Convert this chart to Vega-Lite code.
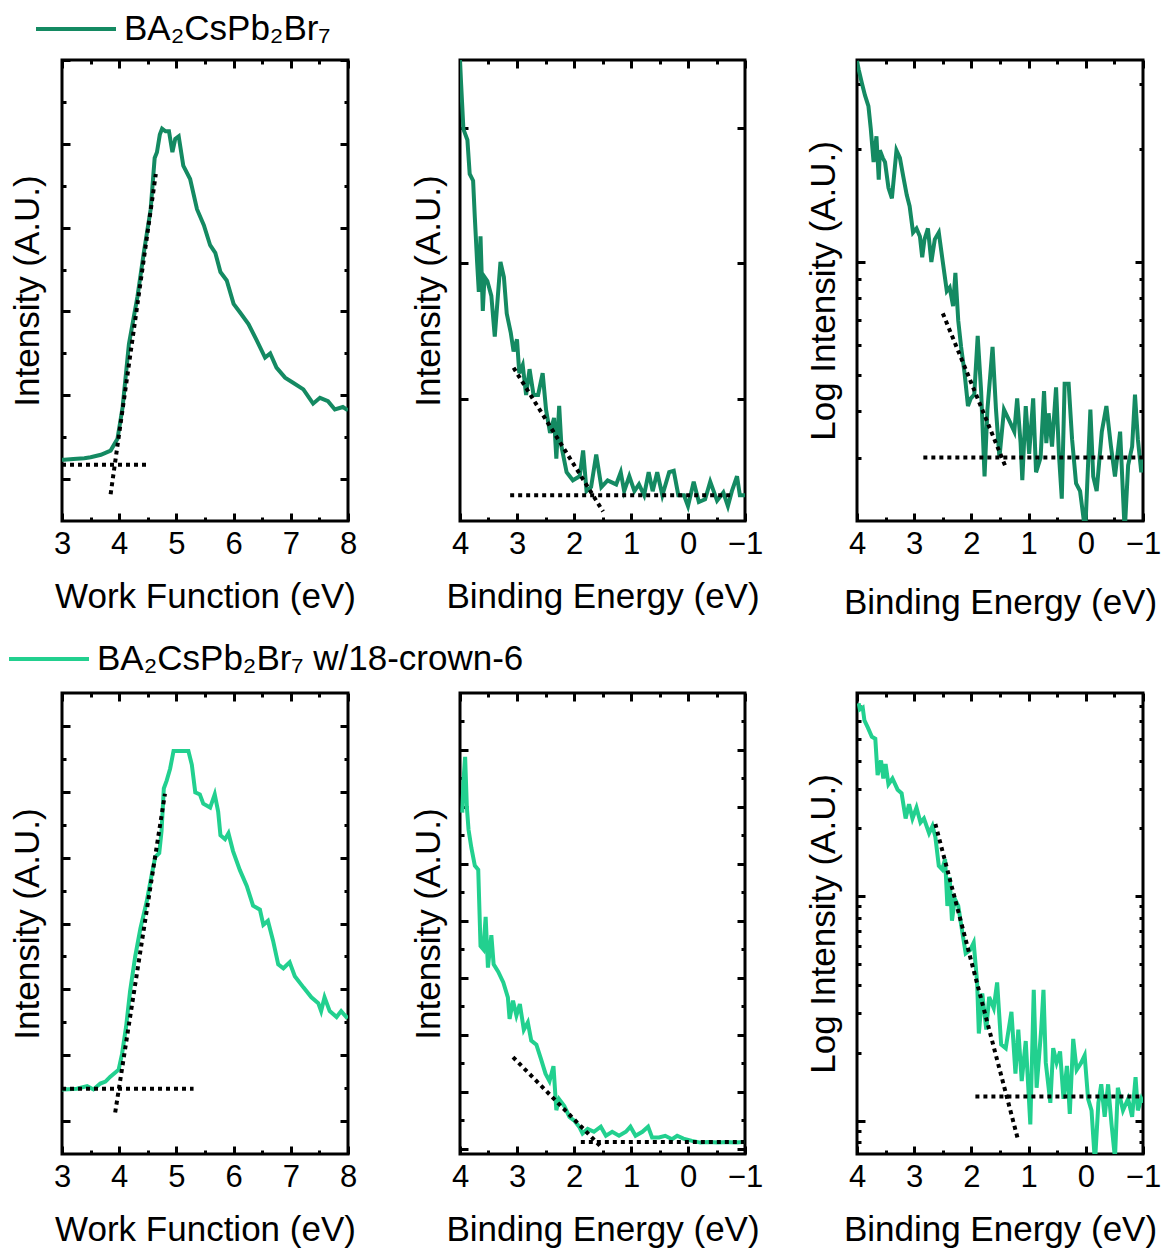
{
"$schema": "https://vega.github.io/schema/vega-lite/v6.json",
"background": "white",
"padding": {"left": 5, "top": -15, "right": 5, "bottom": 5},
"config": {
  "font": "Liberation Sans",
  "view": {"stroke": "black", "strokeWidth": 3},
  "axis": {"grid": false, "domain": false, "ticks": true, "tickColor": "black", "tickWidth": 3, "labelFont": "Liberation Sans", "labelFontSize": 31, "labelColor": "black", "titleFont": "Liberation Sans", "titleFontSize": 35, "titleFontWeight": "normal", "titleColor": "black"},
  "legend": {"labelFont": "Liberation Sans", "labelFontSize": 35, "labelColor": "black", "labelLimit": 0, "symbolType": "stroke", "symbolStrokeWidth": 4, "symbolSize": 6400, "labelOffset": 6}
},
"datasets": {
  "t1": [{"x":3.0,"y":0.23},{"x":3.04,"y":0.23},{"x":3.2,"y":0.24},{"x":3.39,"y":0.25},{"x":3.5,"y":0.26},{"x":3.68,"y":0.29},{"x":3.85,"y":0.34},{"x":3.97,"y":0.48},{"x":4.06,"y":0.86},{"x":4.17,"y":1.61},{"x":4.32,"y":2.18},{"x":4.43,"y":2.70},{"x":4.55,"y":3.22},{"x":4.62,"y":3.83},{"x":4.66,"y":3.90},{"x":4.71,"y":4.11},{"x":4.75,"y":4.18},{"x":4.81,"y":4.15},{"x":4.87,"y":4.15},{"x":4.93,"y":3.90},{"x":4.98,"y":4.06},{"x":5.04,"y":4.09},{"x":5.12,"y":3.74},{"x":5.24,"y":3.58},{"x":5.36,"y":3.22},{"x":5.48,"y":3.03},{"x":5.59,"y":2.79},{"x":5.68,"y":2.70},{"x":5.77,"y":2.47},{"x":5.88,"y":2.37},{"x":6.00,"y":2.09},{"x":6.11,"y":1.99},{"x":6.26,"y":1.85},{"x":6.40,"y":1.66},{"x":6.55,"y":1.45},{"x":6.64,"y":1.50},{"x":6.75,"y":1.33},{"x":6.90,"y":1.21},{"x":7.04,"y":1.15},{"x":7.22,"y":1.07},{"x":7.39,"y":0.90},{"x":7.51,"y":0.97},{"x":7.65,"y":0.93},{"x":7.77,"y":0.83},{"x":7.91,"y":0.86},{"x":8.0,"y":0.82}],
  "t1h": [{"x":3.0,"y":0.17},{"x":4.49,"y":0.17}],
  "t1s": [{"x":3.85,"y":-0.18},{"x":4.64,"y":3.64}],
  "t2": [{"x":4.0,"y":3.5},{"x":3.98,"y":3.32},{"x":3.94,"y":2.99},{"x":3.87,"y":2.91},{"x":3.83,"y":2.66},{"x":3.77,"y":2.61},{"x":3.74,"y":2.34},{"x":3.70,"y":2.01},{"x":3.67,"y":1.79},{"x":3.64,"y":2.20},{"x":3.60,"y":1.65},{"x":3.57,"y":1.90},{"x":3.52,"y":1.87},{"x":3.45,"y":1.76},{"x":3.39,"y":1.46},{"x":3.29,"y":2.01},{"x":3.23,"y":1.90},{"x":3.18,"y":1.63},{"x":3.11,"y":1.49},{"x":3.06,"y":1.35},{"x":3.00,"y":1.44},{"x":2.96,"y":1.19},{"x":2.90,"y":1.25},{"x":2.84,"y":1.03},{"x":2.78,"y":1.22},{"x":2.71,"y":1.03},{"x":2.63,"y":1.03},{"x":2.55,"y":1.19},{"x":2.49,"y":0.92},{"x":2.42,"y":0.75},{"x":2.35,"y":0.86},{"x":2.31,"y":0.56},{"x":2.26,"y":0.95},{"x":2.22,"y":0.65},{"x":2.13,"y":0.46},{"x":2.02,"y":0.40},{"x":1.90,"y":0.43},{"x":1.84,"y":0.62},{"x":1.78,"y":0.32},{"x":1.70,"y":0.35},{"x":1.61,"y":0.59},{"x":1.52,"y":0.35},{"x":1.41,"y":0.40},{"x":1.26,"y":0.37},{"x":1.18,"y":0.46},{"x":1.12,"y":0.32},{"x":1.03,"y":0.43},{"x":0.94,"y":0.32},{"x":0.86,"y":0.37},{"x":0.77,"y":0.29},{"x":0.69,"y":0.46},{"x":0.62,"y":0.32},{"x":0.54,"y":0.46},{"x":0.45,"y":0.29},{"x":0.33,"y":0.46},{"x":0.25,"y":0.47},{"x":0.17,"y":0.29},{"x":0.07,"y":0.29},{"x":0.00,"y":0.21},{"x":-0.10,"y":0.39},{"x":-0.19,"y":0.24},{"x":-0.30,"y":0.26},{"x":-0.39,"y":0.39},{"x":-0.51,"y":0.25},{"x":-0.62,"y":0.31},{"x":-0.70,"y":0.21},{"x":-0.77,"y":0.32},{"x":-0.86,"y":0.43},{"x":-0.91,"y":0.29},{"x":-1.0,"y":0.29}],
  "t2h": [{"x":3.12,"y":0.29},{"x":-0.8,"y":0.29}],
  "t2s": [{"x":3.06,"y":1.23},{"x":1.49,"y":0.17}],
  "t3": [{"x":4.0,"y":3.45},{"x":3.97,"y":3.27},{"x":3.91,"y":2.99},{"x":3.86,"y":2.79},{"x":3.80,"y":2.61},{"x":3.76,"y":2.28},{"x":3.71,"y":1.85},{"x":3.66,"y":2.17},{"x":3.62,"y":1.66},{"x":3.60,"y":1.99},{"x":3.55,"y":1.90},{"x":3.51,"y":1.85},{"x":3.45,"y":1.58},{"x":3.39,"y":1.48},{"x":3.31,"y":1.99},{"x":3.25,"y":1.90},{"x":3.19,"y":1.69},{"x":3.13,"y":1.51},{"x":3.08,"y":1.41},{"x":3.02,"y":1.20},{"x":2.96,"y":1.23},{"x":2.90,"y":1.17},{"x":2.86,"y":1.03},{"x":2.82,"y":1.15},{"x":2.76,"y":1.23},{"x":2.70,"y":1.00},{"x":2.64,"y":1.15},{"x":2.57,"y":1.20},{"x":2.50,"y":1.00},{"x":2.43,"y":0.836},{"x":2.38,"y":0.855},{"x":2.32,"y":0.762},{"x":2.28,"y":0.935},{"x":2.23,"y":0.697},{"x":2.18,"y":0.593},{"x":2.12,"y":0.506},{"x":2.06,"y":0.412},{"x":2.01,"y":0.432},{"x":1.95,"y":0.442},{"x":1.89,"y":0.635},{"x":1.83,"y":0.452},{"x":1.77,"y":0.267},{"x":1.72,"y":0.403},{"x":1.63,"y":0.593},{"x":1.57,"y":0.403},{"x":1.51,"y":0.300},{"x":1.43,"y":0.403},{"x":1.34,"y":0.377},{"x":1.25,"y":0.352},{"x":1.20,"y":0.432},{"x":1.14,"y":0.328},{"x":1.11,"y":0.261},{"x":1.05,"y":0.412},{"x":0.99,"y":0.307},{"x":0.92,"y":0.432},{"x":0.87,"y":0.274},{"x":0.79,"y":0.300},{"x":0.73,"y":0.452},{"x":0.69,"y":0.328},{"x":0.65,"y":0.394},{"x":0.59,"y":0.321},{"x":0.52,"y":0.462},{"x":0.47,"y":0.307},{"x":0.42,"y":0.233},{"x":0.37,"y":0.473},{"x":0.30,"y":0.473},{"x":0.24,"y":0.336},{"x":0.17,"y":0.256},{"x":0.10,"y":0.244},{"x":0.01,"y":0.19},{"x":-0.08,"y":0.403},{"x":-0.13,"y":0.267},{"x":-0.19,"y":0.244},{"x":-0.28,"y":0.352},{"x":-0.36,"y":0.412},{"x":-0.44,"y":0.321},{"x":-0.51,"y":0.267},{"x":-0.60,"y":0.352},{"x":-0.68,"y":0.19},{"x":-0.74,"y":0.286},{"x":-0.81,"y":0.321},{"x":-0.86,"y":0.442},{"x":-0.91,"y":0.336},{"x":-0.97,"y":0.274},{"x":-1.0,"y":0.30}],
  "t3h": [{"x":2.84,"y":0.30},{"x":-1.0,"y":0.30}],
  "t3s": [{"x":2.50,"y":0.729},{"x":1.40,"y":0.283}],
  "b1": [{"x":3.0,"y":0.48},{"x":3.03,"y":0.48},{"x":3.26,"y":0.49},{"x":3.44,"y":0.53},{"x":3.55,"y":0.48},{"x":3.67,"y":0.57},{"x":3.76,"y":0.60},{"x":3.84,"y":0.67},{"x":3.99,"y":0.78},{"x":4.05,"y":1.02},{"x":4.12,"y":1.43},{"x":4.19,"y":1.97},{"x":4.28,"y":2.50},{"x":4.37,"y":2.92},{"x":4.48,"y":3.33},{"x":4.57,"y":3.75},{"x":4.63,"y":4.01},{"x":4.70,"y":4.07},{"x":4.74,"y":4.40},{"x":4.78,"y":5.05},{"x":4.83,"y":5.17},{"x":4.89,"y":5.35},{"x":4.95,"y":5.62},{"x":5.03,"y":5.62},{"x":5.15,"y":5.62},{"x":5.21,"y":5.62},{"x":5.27,"y":5.41},{"x":5.33,"y":4.99},{"x":5.41,"y":4.96},{"x":5.47,"y":4.82},{"x":5.59,"y":4.76},{"x":5.67,"y":4.96},{"x":5.73,"y":4.70},{"x":5.77,"y":4.34},{"x":5.85,"y":4.28},{"x":5.91,"y":4.37},{"x":5.99,"y":4.10},{"x":6.11,"y":3.81},{"x":6.23,"y":3.57},{"x":6.34,"y":3.27},{"x":6.46,"y":3.21},{"x":6.52,"y":2.98},{"x":6.60,"y":3.04},{"x":6.69,"y":2.74},{"x":6.78,"y":2.38},{"x":6.87,"y":2.32},{"x":6.98,"y":2.41},{"x":7.07,"y":2.20},{"x":7.22,"y":2.03},{"x":7.36,"y":1.88},{"x":7.48,"y":1.79},{"x":7.53,"y":1.67},{"x":7.59,"y":1.88},{"x":7.68,"y":1.67},{"x":7.80,"y":1.58},{"x":7.88,"y":1.67},{"x":7.97,"y":1.58},{"x":8.0,"y":1.6}],
  "b1h": [{"x":3.0,"y":0.49},{"x":5.30,"y":0.49}],
  "b1s": [{"x":3.93,"y":0.13},{"x":4.80,"y":4.97}],
  "b2": [{"x":3.96,"y":5.9},{"x":3.94,"y":6.44},{"x":3.91,"y":6.88},{"x":3.88,"y":6.00},{"x":3.85,"y":5.60},{"x":3.80,"y":5.28},{"x":3.74,"y":4.97},{"x":3.68,"y":4.90},{"x":3.64,"y":3.56},{"x":3.59,"y":3.50},{"x":3.55,"y":4.07},{"x":3.51,"y":3.18},{"x":3.45,"y":3.75},{"x":3.41,"y":3.24},{"x":3.33,"y":3.11},{"x":3.24,"y":2.92},{"x":3.16,"y":2.66},{"x":3.13,"y":2.28},{"x":3.07,"y":2.60},{"x":3.01,"y":2.34},{"x":2.95,"y":2.54},{"x":2.88,"y":2.09},{"x":2.81,"y":2.22},{"x":2.75,"y":1.90},{"x":2.66,"y":1.83},{"x":2.58,"y":1.58},{"x":2.50,"y":1.32},{"x":2.43,"y":1.19},{"x":2.36,"y":1.45},{"x":2.31,"y":0.68},{"x":2.26,"y":0.87},{"x":2.17,"y":0.75},{"x":2.08,"y":0.56},{"x":1.99,"y":0.49},{"x":1.91,"y":0.39},{"x":1.85,"y":0.27},{"x":1.76,"y":0.35},{"x":1.65,"y":0.30},{"x":1.53,"y":0.39},{"x":1.44,"y":0.23},{"x":1.33,"y":0.30},{"x":1.21,"y":0.23},{"x":1.09,"y":0.30},{"x":1.01,"y":0.39},{"x":0.92,"y":0.23},{"x":0.80,"y":0.30},{"x":0.70,"y":0.39},{"x":0.63,"y":0.20},{"x":0.51,"y":0.20},{"x":0.40,"y":0.23},{"x":0.28,"y":0.17},{"x":0.19,"y":0.23},{"x":0.08,"y":0.18},{"x":-0.07,"y":0.14},{"x":-0.22,"y":0.11},{"x":-0.36,"y":0.12},{"x":-0.53,"y":0.11},{"x":-0.68,"y":0.12},{"x":-0.83,"y":0.11},{"x":-0.97,"y":0.12},{"x":-1.0,"y":0.12}],
  "b2h": [{"x":1.88,"y":0.12},{"x":-1.0,"y":0.12}],
  "b2s": [{"x":3.07,"y":1.61},{"x":1.53,"y":0.04}],
  "b3": [{"x":3.97,"y":7.2},{"x":3.95,"y":6.76},{"x":3.90,"y":6.89},{"x":3.87,"y":6.04},{"x":3.81,"y":5.61},{"x":3.74,"y":5.11},{"x":3.68,"y":5.01},{"x":3.64,"y":3.45},{"x":3.58,"y":4.01},{"x":3.54,"y":3.33},{"x":3.50,"y":3.86},{"x":3.45,"y":3.14},{"x":3.38,"y":3.33},{"x":3.29,"y":2.97},{"x":3.22,"y":2.86},{"x":3.15,"y":2.21},{"x":3.09,"y":2.56},{"x":3.03,"y":2.21},{"x":2.96,"y":2.47},{"x":2.89,"y":2.12},{"x":2.83,"y":2.21},{"x":2.74,"y":1.90},{"x":2.68,"y":2.05},{"x":2.63,"y":1.83},{"x":2.57,"y":1.36},{"x":2.51,"y":1.31},{"x":2.46,"y":1.46},{"x":2.42,"y":0.902},{"x":2.38,"y":1.21},{"x":2.34,"y":0.776},{"x":2.29,"y":0.970},{"x":2.23,"y":0.902},{"x":2.16,"y":0.693},{"x":2.10,"y":0.555},{"x":2.02,"y":0.575},{"x":1.96,"y":0.619},{"x":1.90,"y":0.412},{"x":1.87,"y":0.244},{"x":1.81,"y":0.368},{"x":1.74,"y":0.254},{"x":1.69,"y":0.355},{"x":1.61,"y":0.317},{"x":1.55,"y":0.412},{"x":1.48,"y":0.218},{"x":1.40,"y":0.210},{"x":1.30,"y":0.305},{"x":1.23,"y":0.162},{"x":1.18,"y":0.254},{"x":1.12,"y":0.150},{"x":1.05,"y":0.226},{"x":0.97,"y":0.0962},{"x":0.91,"y":0.382},{"x":0.86,"y":0.140},{"x":0.78,"y":0.254},{"x":0.74,"y":0.382},{"x":0.70,"y":0.181},{"x":0.62,"y":0.120},{"x":0.57,"y":0.210},{"x":0.51,"y":0.181},{"x":0.45,"y":0.203},{"x":0.39,"y":0.125},{"x":0.33,"y":0.175},{"x":0.28,"y":0.107},{"x":0.22,"y":0.231},{"x":0.16,"y":0.168},{"x":0.08,"y":0.181},{"x":0.02,"y":0.195},{"x":-0.04,"y":0.125},{"x":-0.10,"y":0.111},{"x":-0.16,"y":0.065},{"x":-0.22,"y":0.120},{"x":-0.27,"y":0.145},{"x":-0.33,"y":0.104},{"x":-0.39,"y":0.145},{"x":-0.45,"y":0.0962},{"x":-0.51,"y":0.068},{"x":-0.56,"y":0.140},{"x":-0.65,"y":0.111},{"x":-0.74,"y":0.125},{"x":-0.81,"y":0.104},{"x":-0.87,"y":0.156},{"x":-0.91,"y":0.111},{"x":-0.97,"y":0.125},{"x":-1.0,"y":0.12}],
  "b3h": [{"x":1.93,"y":0.128},{"x":-1.0,"y":0.128}],
  "b3s": [{"x":2.63,"y":2.09},{"x":1.18,"y":0.0813}]
},
"columns": 3,
"spacing": {"row": 172, "column": 112},
"bounds": "flush",
"resolve": {"scale": {"color": "independent"}, "legend": {"color": "independent"}},
"concat": [
  {"width": 286, "height": 461,
   "resolve": {"axis": {"x": "independent", "y": "independent"}},
   "layer": [
    {"data": {"name": "t1"}, "mark": {"type": "line", "strokeWidth": 4, "clip": true},
     "encoding": {
      "x": {"field": "x", "type": "quantitative", "scale": {"domain": [3, 8], "nice": false, "zero": false}, "axis": {"orient": "bottom", "values": [3,4,5,6,7,8], "tickSize": -8, "title": "Work Function (eV)", "labelPadding": 16, "titlePadding": 20, "labelFlush": false, "labelOverlap": false}},
      "y": {"field": "y", "type": "quantitative", "scale": {"domain": [-0.5, 5], "nice": false, "zero": false}, "axis": {"orient": "left", "values": [0,1,2,3,4,5], "tickSize": -8, "labels": false, "title": "Intensity (A.U.)", "titlePadding": 17, "minExtent": 0, "maxExtent": 0}},
      "color": {"datum": "BA\u2082CsPb\u2082Br\u2087", "type": "nominal", "scale": {"range": ["#148a62"]}, "legend": {"title": null, "orient": "none", "legendX": -28, "legendY": -73}}
     }},
    {"data": {"name": "t1h"}, "mark": {"type": "line", "color": "black", "strokeWidth": 4, "strokeDash": [4, 4]},
     "encoding": {
      "x": {"field": "x", "type": "quantitative", "scale": {"domain": [3, 8], "nice": false, "zero": false}, "axis": {"orient": "bottom", "values": [3.5,4.5,5.5,6.5,7.5], "tickSize": -4, "labels": false, "title": null, "minExtent": 0, "maxExtent": 0}},
      "y": {"field": "y", "type": "quantitative", "scale": {"domain": [-0.5, 5], "nice": false, "zero": false}, "axis": {"orient": "left", "values": [0.5,1.5,2.5,3.5,4.5], "tickSize": -4, "labels": false, "title": null, "minExtent": 0, "maxExtent": 0}}
     }},
    {"data": {"name": "t1s"}, "mark": {"type": "line", "color": "black", "strokeWidth": 4, "strokeDash": [4, 4]},
     "encoding": {
      "x": {"field": "x", "type": "quantitative", "scale": {"domain": [3, 8], "nice": false, "zero": false}, "axis": {"orient": "top", "values": [3,4,5,6,7,8], "tickSize": -8, "labels": false, "title": null, "minExtent": 0, "maxExtent": 0}},
      "y": {"field": "y", "type": "quantitative", "scale": {"domain": [-0.5, 5], "nice": false, "zero": false}, "axis": {"orient": "right", "values": [0,1,2,3,4,5], "tickSize": -8, "labels": false, "title": null, "minExtent": 0, "maxExtent": 0}}
     }},
    {"data": {"name": "t1"}, "mark": {"type": "line", "opacity": 0},
     "encoding": {
      "x": {"field": "x", "type": "quantitative", "scale": {"domain": [3, 8], "nice": false, "zero": false}, "axis": {"orient": "top", "values": [3.5,4.5,5.5,6.5,7.5], "tickSize": -4, "labels": false, "title": null, "minExtent": 0, "maxExtent": 0}},
      "y": {"field": "y", "type": "quantitative", "scale": {"domain": [-0.5, 5], "nice": false, "zero": false}, "axis": {"orient": "right", "values": [0.5,1.5,2.5,3.5,4.5], "tickSize": -4, "labels": false, "title": null, "minExtent": 0, "maxExtent": 0}}
     }}
   ]},
  {"width": 285, "height": 461,
   "resolve": {"axis": {"x": "independent", "y": "independent"}},
   "layer": [
    {"data": {"name": "t2"}, "mark": {"type": "line", "strokeWidth": 4, "clip": true, "color": "#148a62"},
     "encoding": {
      "x": {"field": "x", "type": "quantitative", "scale": {"domain": [4, -1], "nice": false, "zero": false}, "axis": {"orient": "bottom", "values": [4,3,2,1,0,-1], "tickSize": -8, "title": "Binding Energy (eV)", "labelPadding": 16, "titlePadding": 20, "labelFlush": false, "labelOverlap": false}},
      "y": {"field": "y", "type": "quantitative", "scale": {"domain": [0.1, 3.5], "nice": false, "zero": false}, "axis": {"orient": "left", "values": [1,2,3], "tickSize": -8, "labels": false, "title": "Intensity (A.U.)", "titlePadding": 14, "minExtent": 0, "maxExtent": 0}}
     }},
    {"data": {"name": "t2h"}, "mark": {"type": "line", "color": "black", "strokeWidth": 4, "strokeDash": [4, 4]},
     "encoding": {
      "x": {"field": "x", "type": "quantitative", "scale": {"domain": [4, -1], "nice": false, "zero": false}, "axis": {"orient": "bottom", "values": [3.5,2.5,1.5,0.5,-0.5], "tickSize": -4, "labels": false, "title": null, "minExtent": 0, "maxExtent": 0}},
      "y": {"field": "y", "type": "quantitative", "scale": {"domain": [0.1, 3.5], "nice": false, "zero": false}, "axis": null}
     }},
    {"data": {"name": "t2s"}, "mark": {"type": "line", "color": "black", "strokeWidth": 4, "strokeDash": [4, 4]},
     "encoding": {
      "x": {"field": "x", "type": "quantitative", "scale": {"domain": [4, -1], "nice": false, "zero": false}, "axis": {"orient": "top", "values": [4,3,2,1,0,-1], "tickSize": -8, "labels": false, "title": null, "minExtent": 0, "maxExtent": 0}},
      "y": {"field": "y", "type": "quantitative", "scale": {"domain": [0.1, 3.5], "nice": false, "zero": false}, "axis": {"orient": "right", "values": [1,2,3], "tickSize": -8, "labels": false, "title": null, "minExtent": 0, "maxExtent": 0}}
     }},
    {"data": {"name": "t2"}, "mark": {"type": "line", "opacity": 0},
     "encoding": {
      "x": {"field": "x", "type": "quantitative", "scale": {"domain": [4, -1], "nice": false, "zero": false}, "axis": {"orient": "top", "values": [3.5,2.5,1.5,0.5,-0.5], "tickSize": -4, "labels": false, "title": null, "minExtent": 0, "maxExtent": 0}},
      "y": {"field": "y", "type": "quantitative", "scale": {"domain": [0.1, 3.5], "nice": false, "zero": false}, "axis": null}
     }}
   ]},
  {"width": 286, "height": 461,
   "resolve": {"axis": {"x": "independent", "y": "independent"}},
   "layer": [
    {"data": {"name": "t3"}, "mark": {"type": "line", "strokeWidth": 4, "clip": true, "color": "#148a62"},
     "encoding": {
      "x": {"field": "x", "type": "quantitative", "scale": {"domain": [4, -1], "nice": false, "zero": false}, "axis": {"orient": "bottom", "values": [4,3,2,1,0,-1], "tickSize": -8, "title": "Binding Energy (eV)", "labelPadding": 16, "titlePadding": 26, "labelFlush": false, "labelOverlap": false}},
      "y": {"field": "y", "type": "quantitative", "scale": {"type": "log", "domain": [0.203, 3.47], "nice": false}, "axis": {"orient": "left", "values": [1], "tickSize": -8, "labels": false, "title": "Log Intensity (A.U.)", "titlePadding": 16, "minExtent": 0, "maxExtent": 0}}
     }},
    {"data": {"name": "t3h"}, "mark": {"type": "line", "color": "black", "strokeWidth": 4, "strokeDash": [4, 4]},
     "encoding": {
      "x": {"field": "x", "type": "quantitative", "scale": {"domain": [4, -1], "nice": false, "zero": false}, "axis": {"orient": "bottom", "values": [3.5,2.5,1.5,0.5,-0.5], "tickSize": -4, "labels": false, "title": null, "minExtent": 0, "maxExtent": 0}},
      "y": {"field": "y", "type": "quantitative", "scale": {"type": "log", "domain": [0.203, 3.47], "nice": false}, "axis": {"orient": "left", "values": [0.3,0.4,0.5,0.6,0.7,0.8,0.9,2,3], "tickSize": -4, "labels": false, "title": null, "minExtent": 0, "maxExtent": 0}}
     }},
    {"data": {"name": "t3s"}, "mark": {"type": "line", "color": "black", "strokeWidth": 4, "strokeDash": [4, 4]},
     "encoding": {
      "x": {"field": "x", "type": "quantitative", "scale": {"domain": [4, -1], "nice": false, "zero": false}, "axis": {"orient": "top", "values": [4,3,2,1,0,-1], "tickSize": -8, "labels": false, "title": null, "minExtent": 0, "maxExtent": 0}},
      "y": {"field": "y", "type": "quantitative", "scale": {"type": "log", "domain": [0.203, 3.47], "nice": false}, "axis": {"orient": "right", "values": [1], "tickSize": -8, "labels": false, "title": null, "minExtent": 0, "maxExtent": 0}}
     }},
    {"data": {"name": "t3"}, "mark": {"type": "line", "opacity": 0},
     "encoding": {
      "x": {"field": "x", "type": "quantitative", "scale": {"domain": [4, -1], "nice": false, "zero": false}, "axis": {"orient": "top", "values": [3.5,2.5,1.5,0.5,-0.5], "tickSize": -4, "labels": false, "title": null, "minExtent": 0, "maxExtent": 0}},
      "y": {"field": "y", "type": "quantitative", "scale": {"type": "log", "domain": [0.203, 3.47], "nice": false}, "axis": {"orient": "right", "values": [0.3,0.4,0.5,0.6,0.7,0.8,0.9,2,3], "tickSize": -4, "labels": false, "title": null, "minExtent": 0, "maxExtent": 0}}
     }}
   ]},
  {"width": 286, "height": 461,
   "resolve": {"axis": {"x": "independent", "y": "independent"}},
   "layer": [
    {"data": {"name": "b1"}, "mark": {"type": "line", "strokeWidth": 4, "clip": true},
     "encoding": {
      "x": {"field": "x", "type": "quantitative", "scale": {"domain": [3, 8], "nice": false, "zero": false}, "axis": {"orient": "bottom", "values": [3,4,5,6,7,8], "tickSize": -8, "title": "Work Function (eV)", "labelPadding": 16, "titlePadding": 20, "labelFlush": false, "labelOverlap": false}},
      "y": {"field": "y", "type": "quantitative", "scale": {"domain": [-0.5, 6.5], "nice": false, "zero": false}, "axis": {"orient": "left", "values": [0,1,2,3,4,5,6], "tickSize": -8, "labels": false, "title": "Intensity (A.U.)", "titlePadding": 17, "minExtent": 0, "maxExtent": 0}},
      "color": {"datum": "BA\u2082CsPb\u2082Br\u2087 w/18-crown-6", "type": "nominal", "scale": {"range": ["#22d08f"]}, "legend": {"title": null, "orient": "none", "legendX": -55, "legendY": -76}}
     }},
    {"data": {"name": "b1h"}, "mark": {"type": "line", "color": "black", "strokeWidth": 4, "strokeDash": [4, 4]},
     "encoding": {
      "x": {"field": "x", "type": "quantitative", "scale": {"domain": [3, 8], "nice": false, "zero": false}, "axis": {"orient": "bottom", "values": [3.5,4.5,5.5,6.5,7.5], "tickSize": -4, "labels": false, "title": null, "minExtent": 0, "maxExtent": 0}},
      "y": {"field": "y", "type": "quantitative", "scale": {"domain": [-0.5, 6.5], "nice": false, "zero": false}, "axis": {"orient": "left", "values": [0.5,1.5,2.5,3.5,4.5,5.5], "tickSize": -4, "labels": false, "title": null, "minExtent": 0, "maxExtent": 0}}
     }},
    {"data": {"name": "b1s"}, "mark": {"type": "line", "color": "black", "strokeWidth": 4, "strokeDash": [4, 4]},
     "encoding": {
      "x": {"field": "x", "type": "quantitative", "scale": {"domain": [3, 8], "nice": false, "zero": false}, "axis": {"orient": "top", "values": [3,4,5,6,7,8], "tickSize": -8, "labels": false, "title": null, "minExtent": 0, "maxExtent": 0}},
      "y": {"field": "y", "type": "quantitative", "scale": {"domain": [-0.5, 6.5], "nice": false, "zero": false}, "axis": {"orient": "right", "values": [0,1,2,3,4,5,6], "tickSize": -8, "labels": false, "title": null, "minExtent": 0, "maxExtent": 0}}
     }},
    {"data": {"name": "b1"}, "mark": {"type": "line", "opacity": 0},
     "encoding": {
      "x": {"field": "x", "type": "quantitative", "scale": {"domain": [3, 8], "nice": false, "zero": false}, "axis": {"orient": "top", "values": [3.5,4.5,5.5,6.5,7.5], "tickSize": -4, "labels": false, "title": null, "minExtent": 0, "maxExtent": 0}},
      "y": {"field": "y", "type": "quantitative", "scale": {"domain": [-0.5, 6.5], "nice": false, "zero": false}, "axis": {"orient": "right", "values": [0.5,1.5,2.5,3.5,4.5,5.5], "tickSize": -4, "labels": false, "title": null, "minExtent": 0, "maxExtent": 0}}
     }}
   ]},
  {"width": 285, "height": 461,
   "resolve": {"axis": {"x": "independent", "y": "independent"}},
   "layer": [
    {"data": {"name": "b2"}, "mark": {"type": "line", "strokeWidth": 4, "clip": true, "color": "#22d08f"},
     "encoding": {
      "x": {"field": "x", "type": "quantitative", "scale": {"domain": [4, -1], "nice": false, "zero": false}, "axis": {"orient": "bottom", "values": [4,3,2,1,0,-1], "tickSize": -8, "title": "Binding Energy (eV)", "labelPadding": 16, "titlePadding": 20, "labelFlush": false, "labelOverlap": false}},
      "y": {"field": "y", "type": "quantitative", "scale": {"domain": [-0.09, 8.0], "nice": false, "zero": false}, "axis": {"orient": "left", "values": [0,1,2,3,4,5,6,7], "tickSize": -8, "labels": false, "title": "Intensity (A.U.)", "titlePadding": 14, "minExtent": 0, "maxExtent": 0}}
     }},
    {"data": {"name": "b2h"}, "mark": {"type": "line", "color": "black", "strokeWidth": 4, "strokeDash": [4, 4]},
     "encoding": {
      "x": {"field": "x", "type": "quantitative", "scale": {"domain": [4, -1], "nice": false, "zero": false}, "axis": {"orient": "bottom", "values": [3.5,2.5,1.5,0.5,-0.5], "tickSize": -4, "labels": false, "title": null, "minExtent": 0, "maxExtent": 0}},
      "y": {"field": "y", "type": "quantitative", "scale": {"domain": [-0.09, 8.0], "nice": false, "zero": false}, "axis": {"orient": "left", "values": [0.5,1.5,2.5,3.5,4.5,5.5,6.5,7.5], "tickSize": -4, "labels": false, "title": null, "minExtent": 0, "maxExtent": 0}}
     }},
    {"data": {"name": "b2s"}, "mark": {"type": "line", "color": "black", "strokeWidth": 4, "strokeDash": [4, 4]},
     "encoding": {
      "x": {"field": "x", "type": "quantitative", "scale": {"domain": [4, -1], "nice": false, "zero": false}, "axis": {"orient": "top", "values": [4,3,2,1,0,-1], "tickSize": -8, "labels": false, "title": null, "minExtent": 0, "maxExtent": 0}},
      "y": {"field": "y", "type": "quantitative", "scale": {"domain": [-0.09, 8.0], "nice": false, "zero": false}, "axis": {"orient": "right", "values": [0,1,2,3,4,5,6,7], "tickSize": -8, "labels": false, "title": null, "minExtent": 0, "maxExtent": 0}}
     }},
    {"data": {"name": "b2"}, "mark": {"type": "line", "opacity": 0},
     "encoding": {
      "x": {"field": "x", "type": "quantitative", "scale": {"domain": [4, -1], "nice": false, "zero": false}, "axis": {"orient": "top", "values": [3.5,2.5,1.5,0.5,-0.5], "tickSize": -4, "labels": false, "title": null, "minExtent": 0, "maxExtent": 0}},
      "y": {"field": "y", "type": "quantitative", "scale": {"domain": [-0.09, 8.0], "nice": false, "zero": false}, "axis": {"orient": "right", "values": [0.5,1.5,2.5,3.5,4.5,5.5,6.5,7.5], "tickSize": -4, "labels": false, "title": null, "minExtent": 0, "maxExtent": 0}}
     }}
   ]},
  {"width": 286, "height": 461,
   "resolve": {"axis": {"x": "independent", "y": "independent"}},
   "layer": [
    {"data": {"name": "b3"}, "mark": {"type": "line", "strokeWidth": 4, "clip": true, "color": "#22d08f"},
     "encoding": {
      "x": {"field": "x", "type": "quantitative", "scale": {"domain": [4, -1], "nice": false, "zero": false}, "axis": {"orient": "bottom", "values": [4,3,2,1,0,-1], "tickSize": -8, "title": "Binding Energy (eV)", "labelPadding": 16, "titlePadding": 20, "labelFlush": false, "labelOverlap": false}},
      "y": {"field": "y", "type": "quantitative", "scale": {"type": "log", "domain": [0.071, 8.0], "nice": false}, "axis": {"orient": "left", "values": [0.1, 1], "tickSize": -8, "labels": false, "title": "Log Intensity (A.U.)", "titlePadding": 16, "minExtent": 0, "maxExtent": 0}}
     }},
    {"data": {"name": "b3h"}, "mark": {"type": "line", "color": "black", "strokeWidth": 4, "strokeDash": [4, 4]},
     "encoding": {
      "x": {"field": "x", "type": "quantitative", "scale": {"domain": [4, -1], "nice": false, "zero": false}, "axis": {"orient": "bottom", "values": [3.5,2.5,1.5,0.5,-0.5], "tickSize": -4, "labels": false, "title": null, "minExtent": 0, "maxExtent": 0}},
      "y": {"field": "y", "type": "quantitative", "scale": {"type": "log", "domain": [0.071, 8.0], "nice": false}, "axis": {"orient": "left", "values": [0.08,0.09,0.2,0.3,0.4,0.5,0.6,0.7,0.8,0.9,2,3,4,5,6,7], "tickSize": -4, "labels": false, "title": null, "minExtent": 0, "maxExtent": 0}}
     }},
    {"data": {"name": "b3s"}, "mark": {"type": "line", "color": "black", "strokeWidth": 4, "strokeDash": [4, 4]},
     "encoding": {
      "x": {"field": "x", "type": "quantitative", "scale": {"domain": [4, -1], "nice": false, "zero": false}, "axis": {"orient": "top", "values": [4,3,2,1,0,-1], "tickSize": -8, "labels": false, "title": null, "minExtent": 0, "maxExtent": 0}},
      "y": {"field": "y", "type": "quantitative", "scale": {"type": "log", "domain": [0.071, 8.0], "nice": false}, "axis": {"orient": "right", "values": [0.1, 1], "tickSize": -8, "labels": false, "title": null, "minExtent": 0, "maxExtent": 0}}
     }},
    {"data": {"name": "b3"}, "mark": {"type": "line", "opacity": 0},
     "encoding": {
      "x": {"field": "x", "type": "quantitative", "scale": {"domain": [4, -1], "nice": false, "zero": false}, "axis": {"orient": "top", "values": [3.5,2.5,1.5,0.5,-0.5], "tickSize": -4, "labels": false, "title": null, "minExtent": 0, "maxExtent": 0}},
      "y": {"field": "y", "type": "quantitative", "scale": {"type": "log", "domain": [0.071, 8.0], "nice": false}, "axis": {"orient": "right", "values": [0.08,0.09,0.2,0.3,0.4,0.5,0.6,0.7,0.8,0.9,2,3,4,5,6,7], "tickSize": -4, "labels": false, "title": null, "minExtent": 0, "maxExtent": 0}}
     }}
   ]}
]
}
